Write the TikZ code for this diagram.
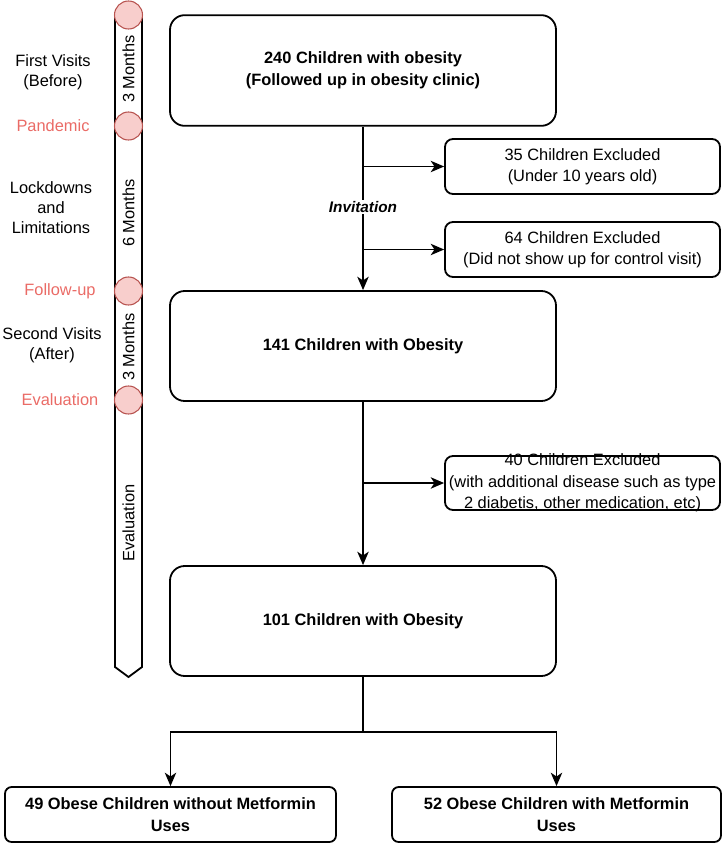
\documentclass[tikz,border=0pt]{standalone}
\usepackage{fontspec}
\setmainfont{Liberation Sans}
\usetikzlibrary{arrows.meta}
\definecolor{circfill}{HTML}{F8CECC}
\definecolor{circline}{HTML}{B85450}
\definecolor{redtext}{HTML}{EA6B66}
\begin{document}
\begin{tikzpicture}[x=0.75pt,y=-0.75pt,
  bigbox/.style={draw, line width=1.35pt, rounded corners=11pt, minimum width=289.5pt, minimum height=83pt, inner sep=0pt, font=\bfseries\fontsize{12.3}{16.5}\selectfont, align=center},
  exbox/.style={draw, line width=1.35pt, rounded corners=6pt, minimum width=206.25pt, minimum height=41.25pt, inner sep=0pt},
  extext/.style={font=\fontsize{12.3}{16}\selectfont, align=center, inner sep=0pt},
  endbox/.style={draw, line width=1.35pt, rounded corners=5pt, minimum height=41.25pt, inner sep=0pt, font=\bfseries\fontsize{12.3}{16}\selectfont, align=center},
  conn/.style={line width=1.35pt, -{Stealth[length=10pt,width=8.5pt,inset=2.8pt]}},
  plainline/.style={line width=1.35pt},
  tlabel/.style={font=\fontsize{12.3}{15}\selectfont, align=center, inner sep=0pt},
  redlabel/.style={tlabel, text=redtext},
  bartext/.style={tlabel, rotate=90},
  timedot/.style={circle, draw=circline, fill=circfill, line width=0.8pt, minimum size=21pt, inner sep=0pt}
]
\useasboundingbox (0,0) rectangle (724,845);

% timeline bar
\draw[line width=1.35pt, fill=white] (115,15) -- (142,15) -- (142,667) -- (128.5,677) -- (115,667) -- cycle;
\node[bartext] (m1) at (128.5,69) {3 Months};
\node[bartext] (m2) at (128.5,213) {6 Months};
\node[bartext] (m3) at (128.5,347) {3 Months};
\node[bartext] (m4) at (128.5,523) {Evaluation};
\node[timedot] (c1) at (128.5,15) {};
\node[timedot] (c2) at (128.5,126) {};
\node[timedot] (c3) at (128.5,291) {};
\node[timedot] (c4) at (128.5,400) {};

% left labels
\node[tlabel] (l1) at (53,72) {First Visits\\(Before)};
\node[redlabel] (l2) at (53,126) {Pandemic};
\node[tlabel] (l3) at (51,208) {Lockdowns\\and\\Limitations};
\node[redlabel] (l4) at (60,291) {Follow-up};
\node[tlabel] (l5) at (52,345) {Second Visits\\(After)};
\node[redlabel] (l6) at (60,400) {Evaluation};

% main boxes
\node[bigbox] (b1) at (363,70.5) {240 Children with obesity\\(Followed up in obesity clinic)};
\node[bigbox, minimum height=82.5pt] (b2) at (363,346) {141 Children with Obesity};
\node[bigbox, minimum height=82.5pt] (b3) at (363,621) {101 Children with Obesity};

% excluded boxes
\node[exbox] (e1) at (582.5,166.5) {};
\node[extext] (e1t) at (e1.center) {35 Children Excluded\\(Under 10 years old)};
\node[exbox] (e2) at (582.5,249.5) {};
\node[extext] (e2t) at (e2.center) {64 Children Excluded\\(Did not show up for control visit)};
\node[exbox, minimum height=40.5pt] (e3) at (582.5,483) {};
\node[extext] (e3t) at (e3.center) {40 Children Excluded\\(with additional disease such as type\\2 diabetis, other medication, etc)};

% final boxes
\node[endbox, minimum width=248.25pt] (f1) at (170.5,814.5) {49 Obese Children without Metformin\\Uses};
\node[endbox, minimum width=246.75pt] (f2) at (556.5,814.5) {52 Obese Children with Metformin\\Uses};

% connectors
\draw[conn] (b1.south) -- (b2.north);
\draw[conn] (b1.south |- e1.west) -- (e1.west);
\draw[conn] (b1.south |- e2.west) -- (e2.west);
\node[fill=white, inner sep=1pt, font=\bfseries\itshape\fontsize{11.5}{13}\selectfont] (inv) at (363,207) {Invitation};
\draw[conn] (b2.south) -- (b3.north);
\draw[conn] (b2.south |- e3.west) -- (e3.west);
\coordinate (split) at (363,732);
\draw[plainline] (b3.south) -- (split);
\draw[conn] (split) -| (f1.north);
\draw[conn] (split) -| (f2.north);
\end{tikzpicture}
\end{document}
